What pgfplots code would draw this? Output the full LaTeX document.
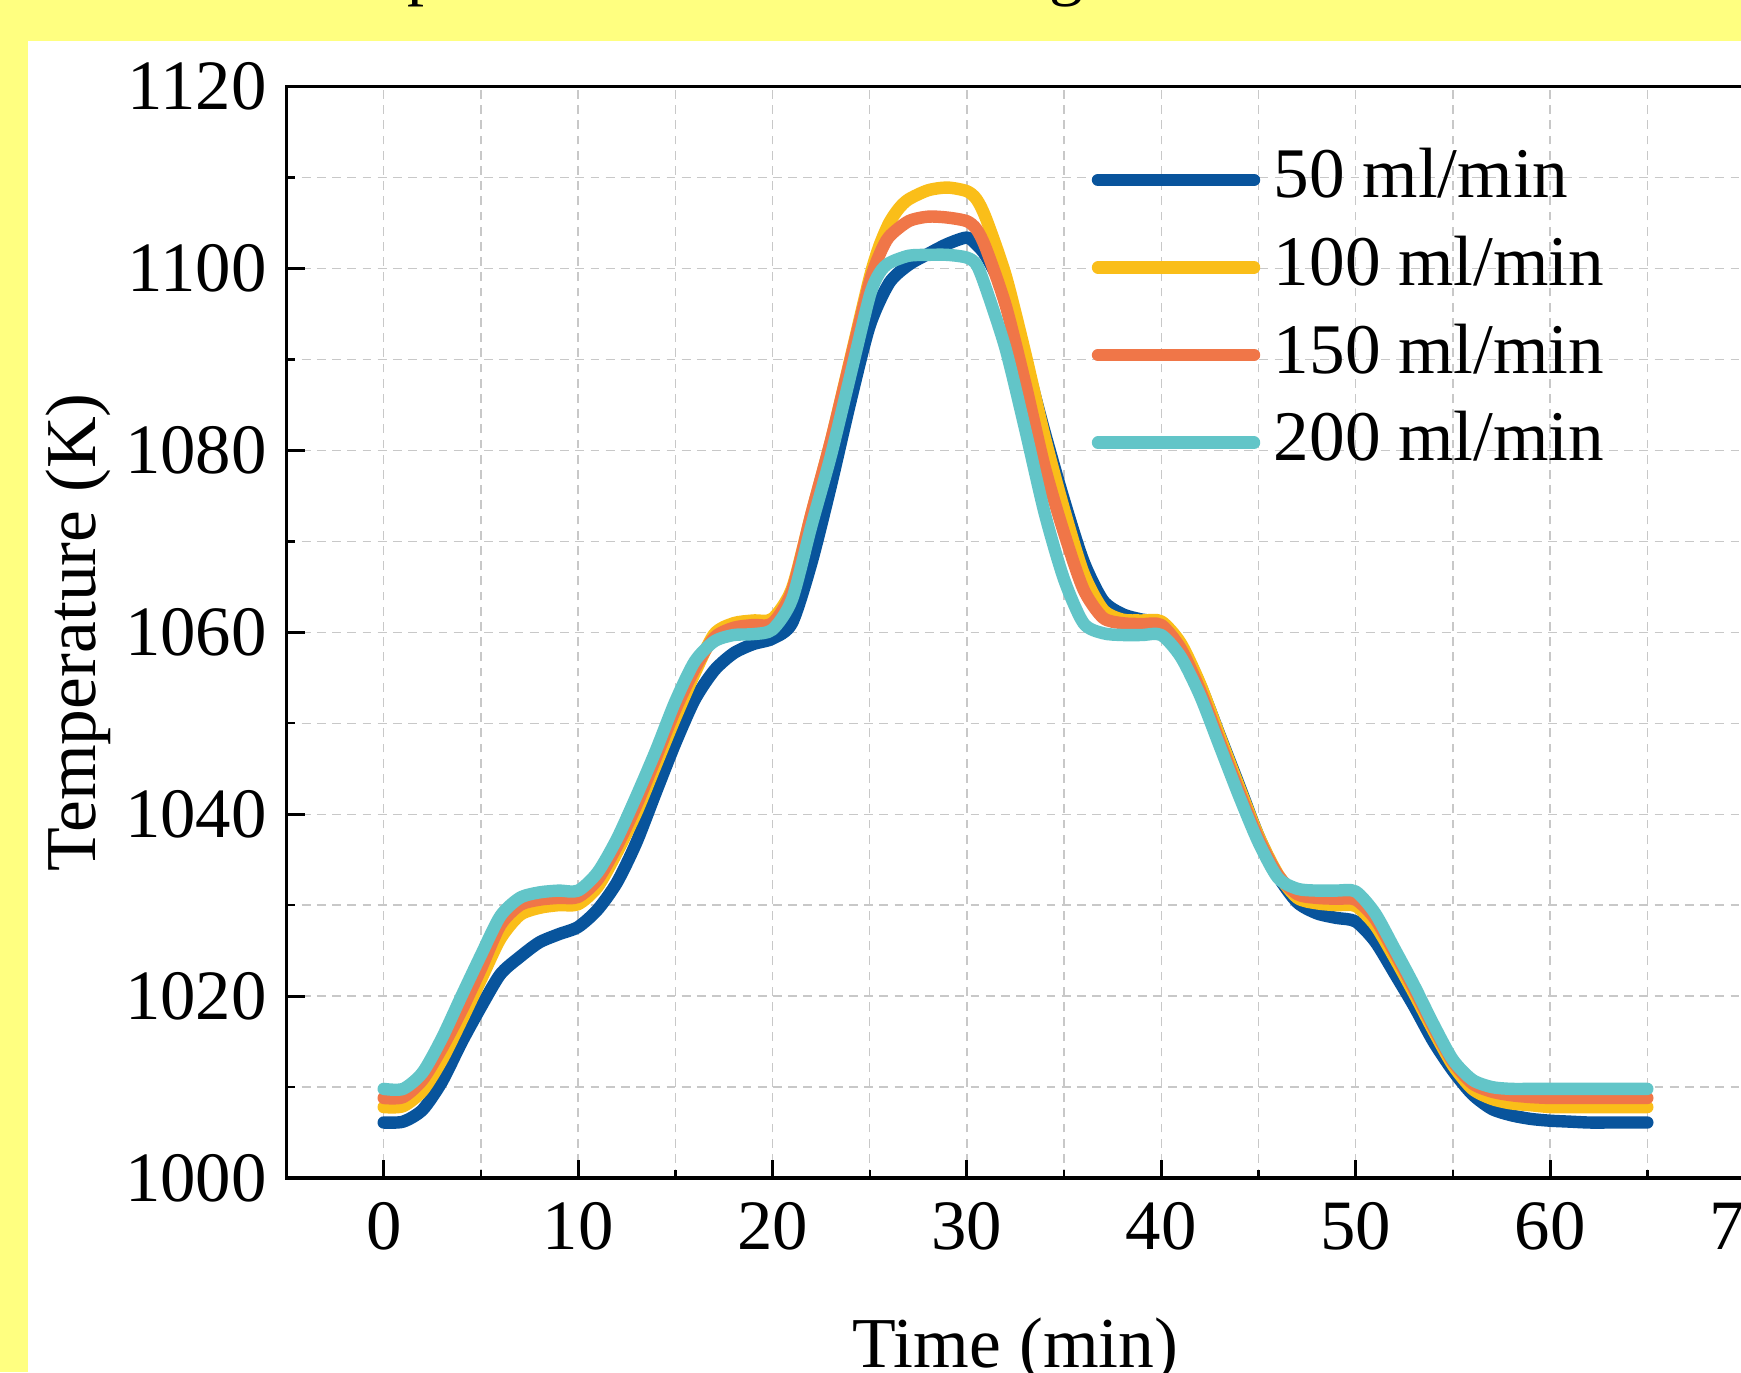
\documentclass[border=0pt]{standalone}
\usepackage{fontspec}
\setmainfont{Liberation Serif}
\usepackage{pgfplots}
\usepackage{pgfplotstable}
\pgfplotsset{compat=1.18}

\definecolor{bgyellow}{RGB}{255,255,128}
\definecolor{cblue}{RGB}{8,84,156}
\definecolor{cyellow}{RGB}{250,190,25}
\definecolor{corange}{RGB}{240,118,72}
\definecolor{cteal}{RGB}{98,197,200}
\definecolor{gridgray}{RGB}{200,200,200}

% temperature (K) vs time (min)
\pgfplotstableread{
t T
0 1006.1
1 1006.2
2 1007.5
3 1010.6
4 1014.9
5 1018.8
6 1022.4
7 1024.3
8 1025.9
9 1026.8
10 1027.6
11 1029.5
12 1032.5
13 1036.9
14 1042.4
15 1047.8
16 1052.6
17 1055.8
18 1057.7
19 1058.7
20 1059.3
21 1061.0
22 1067.6
23 1076.1
24 1085.3
25 1093.7
26 1098.4
27 1100.4
28 1101.6
29 1102.7
30 1103.4
30.5 1102.6
31 1101.3
32 1097.0
33 1090.0
34 1082.0
35 1074.5
36 1067.8
37 1063.5
38 1062.0
39 1061.4
40 1061.0
41 1058.6
42 1054.2
43 1048.7
44 1043.2
45 1037.6
46 1033.2
47 1030.3
48 1029.1
49 1028.6
50 1028.2
51 1026.0
52 1022.5
53 1018.9
54 1015.0
55 1011.8
56 1009.2
57 1007.6
58 1006.9
59 1006.5
60 1006.3
61 1006.2
62 1006.1
63 1006.1
64 1006.1
65 1006.1
}\flowA

\pgfplotstableread{
t T
0 1007.8
1 1007.9
2 1009.6
3 1013.0
4 1017.3
5 1021.8
6 1026.3
7 1028.9
8 1029.7
9 1030.0
10 1030.1
11 1032.0
12 1035.8
13 1040.2
14 1045.4
15 1050.6
16 1055.5
17 1059.8
18 1061.0
19 1061.3
20 1061.5
21 1064.8
22 1073.0
23 1081.0
24 1090.0
25 1099.0
25.5 1102.5
26 1105.0
26.5 1106.6
27 1107.6
28 1108.6
29 1108.9
30 1108.5
30.5 1107.6
31 1105.4
32 1099.2
33 1090.7
34 1081.5
35 1073.5
36 1066.5
37 1062.5
38 1061.4
39 1061.3
40 1061.2
41 1058.8
42 1054.3
43 1048.6
44 1043.0
45 1037.6
46 1033.4
47 1030.8
48 1030.2
49 1030.0
50 1029.9
51 1027.8
52 1024.2
53 1020.3
54 1016.2
55 1012.4
56 1009.8
57 1008.7
58 1008.2
59 1008.0
60 1007.8
61 1007.8
62 1007.8
63 1007.8
64 1007.8
65 1007.8
}\flowB

\pgfplotstableread{
t T
0 1008.8
1 1008.9
2 1010.8
3 1014.3
4 1018.4
5 1023.0
6 1027.8
7 1030.0
8 1030.6
9 1030.8
10 1030.9
11 1032.8
12 1036.5
13 1041.0
14 1046.2
15 1051.5
16 1056.0
17 1059.4
18 1060.5
19 1060.8
20 1061.0
21 1064.5
22 1073.0
23 1081.0
24 1089.8
25 1098.5
25.5 1101.5
26 1103.5
27 1105.2
28 1105.7
29 1105.6
30 1105.2
30.5 1104.3
31 1102.1
32 1095.9
33 1087.4
34 1078.2
35 1070.9
36 1064.7
37 1061.6
38 1061.0
39 1060.9
40 1060.8
41 1058.2
42 1053.6
43 1048.0
44 1042.5
45 1037.3
46 1033.3
47 1031.2
48 1030.8
49 1030.7
50 1030.6
51 1028.5
52 1024.8
53 1020.8
54 1016.6
55 1012.8
56 1010.4
57 1009.5
58 1009.1
59 1008.9
60 1008.8
61 1008.8
62 1008.8
63 1008.8
64 1008.8
65 1008.8
}\flowC

\pgfplotstableread{
t T
0 1009.8
1 1009.8
2 1011.6
3 1015.4
4 1020.0
5 1024.5
6 1028.8
7 1030.8
8 1031.4
9 1031.6
10 1031.6
11 1033.6
12 1037.3
13 1042.0
14 1047.0
15 1052.4
16 1056.8
17 1059.0
18 1059.7
19 1059.8
20 1060.3
21 1063.6
22 1071.7
23 1079.4
24 1088.2
25 1097.0
25.5 1099.5
26 1100.6
27 1101.4
28 1101.5
29 1101.5
30 1101.2
30.5 1100.4
31 1097.7
32 1091.1
33 1082.3
34 1073.1
35 1065.8
36 1061.0
37 1059.9
38 1059.7
39 1059.7
40 1059.7
41 1057.3
42 1053.0
43 1047.5
44 1042.0
45 1036.9
46 1033.0
47 1031.8
48 1031.6
49 1031.6
50 1031.5
51 1029.1
52 1025.2
53 1021.2
54 1016.9
55 1013.0
56 1010.8
57 1010.0
58 1009.8
59 1009.8
60 1009.8
61 1009.8
62 1009.8
63 1009.8
64 1009.8
65 1009.8
}\flowD

\begin{document}
\begin{tikzpicture}
\path[use as bounding box] (0,0) rectangle (435.25pt,343pt);
\clip (0,0) rectangle (435.25pt,343pt);
\fill[bgyellow] (0,0) rectangle (435.25pt,343pt);
\fill[white] (7pt,0) rectangle (440pt,332.75pt);

% title, only its descenders show above the crop
\node[anchor=base west, inner sep=0pt, font=\fontsize{17}{20}\selectfont]
  at (71.75pt,344.95pt) {Temperature variation during the test};

\begin{axis}[
    at={(71.625pt,48.5pt)}, anchor=south west,
    scale only axis,
    width=364.5pt, height=272.85pt,
    xmin=-5, xmax=70,
    ymin=1000, ymax=1120,
    xtick={0,10,...,70},
    ytick={1000,1020,...,1120},
    minor x tick num=1,
    minor y tick num=1,
    xtick pos=bottom, ytick pos=left,
    tick align=inside,
    major tick length=4.5pt,
    minor tick length=2pt,
    every tick/.style={black, line width=0.75pt},
    every minor tick/.style={black, line width=0.6pt},
    axis line style={line width=0.85pt},
    grid=both,
    major grid style={gridgray, line width=0.35pt, dash pattern=on 2.2pt off 1.6pt},
    minor grid style={gridgray, line width=0.35pt, dash pattern=on 2.2pt off 1.6pt},
    /pgf/number format/assume math mode=true,
    /pgf/number format/1000 sep={},
    tick label style={font=\fontsize{17.7}{20}\selectfont},
    xticklabel style={yshift=-2.6pt},
    yticklabel style={xshift=-1.4pt},
    label style={font=\fontsize{17.9}{21}\selectfont},
    xlabel={Time (min)},
    ylabel={Temperature (K)},
    xlabel style={at={(axis description cs:0.5,-0.1732)}, anchor=base},
    ylabel style={at={(axis description cs:-0.1307,0.5)}, anchor=base},
    legend style={
        at={(axis description cs:0.5518,0.9446)}, anchor=north west,
        draw=none, fill=none, inner sep=0pt,
        row sep=5.9pt, column sep=3.4pt,
        font=\fontsize{17.8}{21}\selectfont,
        nodes={inner sep=0pt, text height=12.5pt, text depth=3.5pt},
    },
    legend cell align=left,
    legend image code/.code={\draw[#1, line cap=round] (0pt,0pt) -- (39pt,0pt);},
    every axis plot/.append style={line width=3.1pt, line cap=round, line join=round, smooth, tension=0.45},
]
\addplot[cblue] table[x=t, y=T] {\flowA};
\addplot[cyellow] table[x=t, y=T] {\flowB};
\addplot[corange] table[x=t, y=T] {\flowC};
\addplot[cteal] table[x=t, y=T] {\flowD};
\legend{50 ml/min, 100 ml/min, 150 ml/min, 200 ml/min}
\end{axis}
\end{tikzpicture}
\end{document}
